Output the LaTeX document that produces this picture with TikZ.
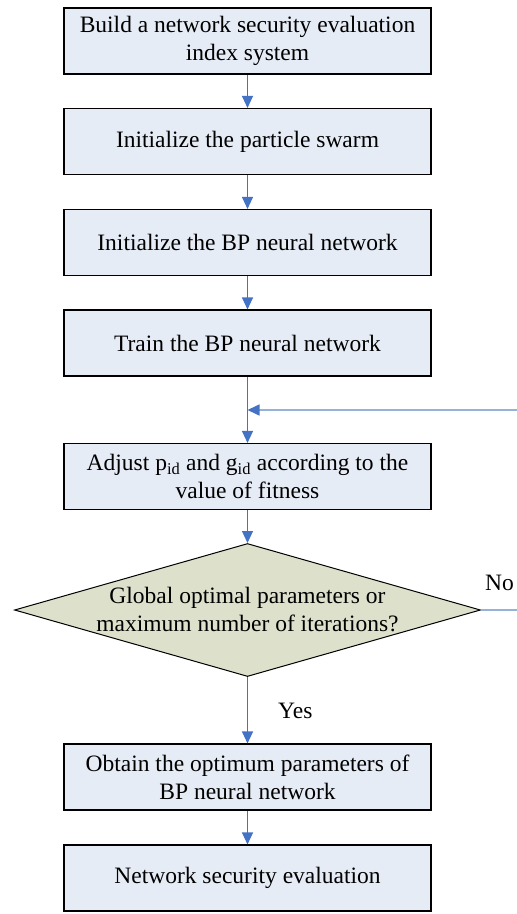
\documentclass[tikz,border=0pt]{standalone}
\usepackage{fontspec}
\setmainfont{Liberation Serif}
\usetikzlibrary{arrows.meta,shapes.geometric}
\definecolor{boxfill}{RGB}{230,236,246}
\definecolor{decfill}{RGB}{221,225,203}
\definecolor{flowblue}{RGB}{68,114,196}
\definecolor{backblue}{RGB}{149,179,215}
\tikzset{
  stepbox/.style={draw=black,line width=1.1pt,fill=boxfill,minimum width=367pt,minimum height=66pt,
    inner sep=0pt,align=center,font=\fontsize{23.5}{28}\selectfont},
  decision/.style={draw=black,line width=1pt,fill=decfill,diamond,aspect=3.5,minimum width=466pt,
    minimum height=133pt,inner sep=0pt},
  flow/.style={flowblue,line width=1.2pt,-{Triangle[length=12pt,width=11pt]}},
  back/.style={backblue,line width=1.5pt,-{Triangle[length=12pt,width=11pt,color=flowblue]}},
  lbl/.style={font=\fontsize{23.5}{28}\selectfont,inner sep=0pt}
}
\begin{document}
\begin{tikzpicture}[x=1pt,y=-1pt]
    \clip (0,0) rectangle (517,914);

    \node[stepbox] (build) at (247.5,41) {Build a network security evaluation\\index system};
    \node[stepbox] (swarm) at (247.5,141.5) {Initialize the particle swarm};
    \node[stepbox] (initbp) at (247.5,242.5) {Initialize the BP neural network};
    \node[stepbox] (train) at (247.5,343) {Train the BP neural network};
    \node[stepbox] (adjust) at (247.5,476.5) {Adjust p\textsubscript{id} and g\textsubscript{id} according to the\\value of fitness};
    \node[decision] (check) at (247.5,610) {};
    \node[lbl,align=center] (checktxt) at (check.center) {Global optimal parameters or\\maximum number of iterations?};
    \node[stepbox] (optimum) at (247.5,777) {Obtain the optimum parameters of\\BP neural network};
    \node[stepbox] (evaluate) at (247.5,878) {Network security evaluation};

    \coordinate (join) at (247.5,410);
    \coordinate (outr) at (530,610);
    \coordinate (outu) at (530,410);

    \draw[flow] (build) -- (swarm);
    \draw[flow] (swarm) -- (initbp);
    \draw[flow] (initbp) -- (train);
    \draw[flow] (train) -- (adjust);
    \draw[flow] (adjust) -- (check);
    \draw[flow] (check) -- (optimum);
    \draw[flow] (optimum) -- (evaluate);

    % feedback loop
    \draw[back] (check.east) -- (outr) -- (outu) -- (join);

    \node[lbl,anchor=west] (no) at (485,583) {No};
    \node[lbl,anchor=west] (yes) at (278,711) {Yes};
\end{tikzpicture}
\end{document}
